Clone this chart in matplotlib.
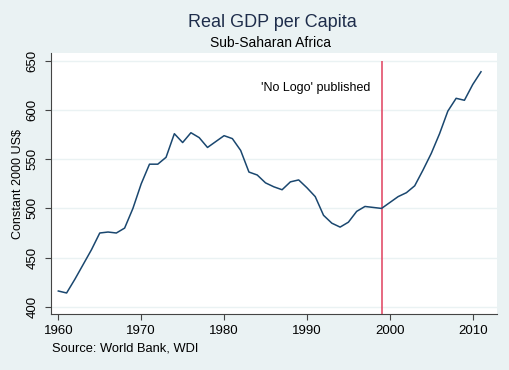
import matplotlib
matplotlib.use("Agg")
import matplotlib.pyplot as plt

# Real GDP per capita, Sub-Saharan Africa (constant 2000 US$)
years = list(range(1960, 2012))
gdp_per_capita = [
    416, 414, 428, 443, 458, 475, 476, 475, 480, 500,
    525, 545, 545, 552, 576, 567, 577, 572, 562, 568,
    574, 571, 559, 537, 534, 526, 522, 519, 527, 529,
    521, 512, 493, 485, 481, 486, 497, 502, 501, 500,
    506, 512, 516, 523, 539, 556, 576, 599, 612, 610,
    626, 639,
]

event_year = 1999
event_label = "'No Logo' published"
y_ticks = [400, 450, 500, 550, 600, 650]
x_ticks = [1960, 1970, 1980, 1990, 2000, 2010]

bg = "#EAF2F3"
navy = "#1A476F"

plt.rcParams['font.family'] = ['Liberation Sans', 'DejaVu Sans']

fig = plt.figure(figsize=(5.1, 3.7), dpi=100, facecolor=bg)
ax = fig.add_axes([0.0994, 0.1505, 0.8751, 0.7063])
ax.set_facecolor("white")

# horizontal grid lines at the y ticks
for y in y_ticks:
    ax.axhline(y, color=bg, linewidth=1.0, zorder=0)

ax.plot(years, gdp_per_capita, color=navy, linewidth=1.1, zorder=3)

ax.set_xlim(1959.08, 2012.93)
ax.set_ylim(392.3, 658.1)

# event marker
ax.vlines(event_year, 392.3, 650, color="#E0405E", linewidth=1.1, zorder=2)
ax.text(1997.6, 622, event_label, ha='right', va='center', fontsize=9, color='black')

ax.set_xticks(x_ticks)
ax.set_yticks(y_ticks)
ax.set_yticklabels([str(v) for v in y_ticks], rotation=90, va='center')
ax.tick_params(axis='both', direction='out', length=4, width=0.8, color='#444444',
               labelsize=9.5)
ax.tick_params(axis='x', pad=3.5)
ax.tick_params(axis='y', pad=5)

for side in ['top', 'right']:
    ax.spines[side].set_visible(False)
for side in ['left', 'bottom']:
    ax.spines[side].set_color('#444444')
    ax.spines[side].set_linewidth(0.8)

ax.set_ylabel("Constant 2000 US$", fontsize=9, labelpad=1.5)

fig.text(0.535, 0.938, "Real GDP per Capita", ha='center', va='center', fontsize=13, color='#1E2D4B')
fig.text(0.530, 0.883, "Sub-Saharan Africa", ha='center', va='center', fontsize=10, color='black')
fig.text(0.101, 0.059, "Source: World Bank, WDI", ha='left', va='center', fontsize=9.3, color='black')

fig.savefig("out.png", dpi=100, facecolor=bg)
